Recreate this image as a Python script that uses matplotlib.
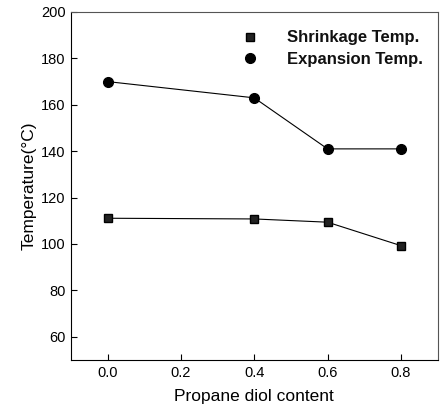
import matplotlib
matplotlib.use("Agg")
import matplotlib.pyplot as plt

plt.rcParams['font.family'] = ['Liberation Sans', 'DejaVu Sans']

content = [0.0, 0.4, 0.6, 0.8]
shrinkage_temp = [111.1, 110.8, 109.4, 99.3]
expansion_temp = [170.0, 163.0, 141.0, 141.0]
x_ticks = [0.0, 0.2, 0.4, 0.6, 0.8]
y_ticks = [60, 80, 100, 120, 140, 160, 180, 200]

fig = plt.figure(figsize=(4.40, 4.09), dpi=100)
ax = fig.add_axes([71/440, 1 - 360/409, (437.5 - 71)/440, (360 - 12)/409])

ax.plot(content, shrinkage_temp, color='black', lw=0.8, marker='s', ms=6.0,
        markerfacecolor='#222222', markeredgecolor='black', label='Shrinkage Temp.')
ax.plot(content, expansion_temp, color='black', lw=0.8, marker='o', ms=7.0,
        markerfacecolor='black', markeredgecolor='black', label='Expansion Temp.')

ax.set_xlim(-0.1, 0.9)
ax.set_ylim(50, 200)
ax.set_xticks(x_ticks)
ax.set_xticklabels([f"{v:.1f}" for v in x_ticks])
ax.set_yticks(y_ticks)
ax.tick_params(direction='in', length=4, width=0.8, labelsize=10.5, pad=4)

for s in ax.spines.values():
    s.set_linewidth(0.8)
ax.spines['top'].set_color('#555555')
ax.spines['right'].set_color('#555555')

ax.set_xlabel('Propane diol content', fontsize=12.5, labelpad=7)
ax.set_ylabel('Temperature(\u00b0C)', fontsize=12.5, labelpad=3)

leg = ax.legend(loc='upper right', bbox_to_anchor=(1.0, 0.99), frameon=False,
                handlelength=1.2, handletextpad=1.6, labelspacing=0.38,
                prop={'weight': 'bold', 'size': 12}, numpoints=1)
for t in leg.get_texts():
    t.set_color('#111111')
for h in leg.legend_handles:
    h.set_linestyle('none')

fig.savefig('out.png', dpi=100)
